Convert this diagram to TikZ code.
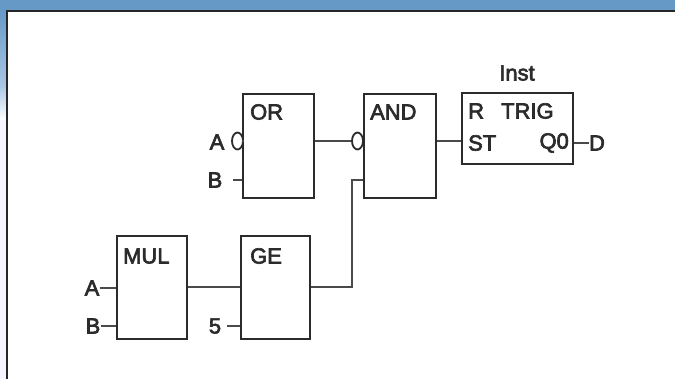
\documentclass[tikz,border=0pt]{standalone}
\usepackage{fontspec}
\setmainfont{Liberation Sans}
\newfontfamily\diag{Liberation Sans}[FakeBold=3]
\usetikzlibrary{shapes.geometric}
\definecolor{ink}{HTML}{2B2B2B}
\definecolor{wirec}{HTML}{4A4A4A}
\definecolor{band}{HTML}{6699C6}
\definecolor{bandlight}{HTML}{A8C6E4}
\begin{document}
\begin{tikzpicture}[x=1bp,y=-1bp,
  fb/.style={draw=ink,line width=2.4bp,rectangle,inner sep=0pt,anchor=north west},
  txt/.style={text=ink,inner sep=0pt,font=\diag\fontsize{22}{24}\selectfont},
  wire/.style={draw=wirec,line width=1.8bp},
  inv/.style={draw=ink,line width=1.8bp,ellipse,inner sep=0pt,minimum width=11bp,minimum height=17bp}]
\useasboundingbox (0,0) rectangle (675,379);
% background frame
\fill[band] (0,0) rectangle (675,10);
\shade[top color=band,bottom color=bandlight] (0,10) rectangle (6,85);
\shade[top color=bandlight,bottom color=white] (0,85) rectangle (6,120);
\fill[white!96!blue] (0,120) rectangle (6,379);
\fill[white] (6,10) rectangle (675,379);
\draw[line width=2bp,black!85] (7,379) -- (7,11) -- (675,11);
% boxes
\node[fb,minimum width=71bp,minimum height=104bp] (or) at (242,93) {};
\node[fb,minimum width=72bp,minimum height=104bp] (and) at (363,93) {};
\node[fb,minimum width=111bp,minimum height=71bp] (trig) at (461,92) {};
\node[fb,minimum width=70bp,minimum height=103bp] (mul) at (116,235) {};
\node[fb,minimum width=69bp,minimum height=103bp] (ge) at (240,235) {};
% box texts
\node[txt,anchor=west] (ort) at (250,112) {OR};
\node[txt,anchor=west] (andt) at (370,112) {AND};
\node[txt,anchor=west] (mult) at (123,256) {MUL};
\node[txt,anchor=west] (get) at (250,256) {GE};
\node[txt,anchor=west] (tr) at (468,111) {R};
\node[txt,anchor=west] (trt) at (501,111) {TRIG};
\node[txt,anchor=west] (st) at (468,143) {ST};
\node[txt,anchor=east] (q0) at (569,143) {Q0};
\node[txt] (inst) at (517,73) {Inst};
% input / output labels
\node[txt] (la) at (217,142) {A};
\node[txt] (lb) at (215,180) {B};
\node[txt] (ma) at (92,288) {A};
\node[txt] (mb) at (93,326) {B};
\node[txt] (five) at (215,326) {5};
\node[txt] (ld) at (597,143) {D};
% inverted inputs
\node[inv] (ia) at (237.5,141) {};
\node[inv] (ib) at (357.5,141) {};
% connectors
\coordinate (bend1) at (352,287);
\coordinate (bend2) at (352,180);
\draw[wire] (ia.east) -- (ia.east -| or.west);
\draw[wire] (233,180) -- (lb.east -| or.west);
\draw[wire] (or.east |- ib) -- (ib.west);
\draw[wire] (ge.east |- bend1) -- (bend1) -- (bend2) -- (bend2 -| and.west);
\draw[wire] (mul.east |- bend1) -- (bend1 -| ge.west);
\draw[wire] (and.east |- 0,141) -- (trig.west |- 0,141);
\draw[wire] (trig.east |- ld) -- (ld.west);
\draw[wire] (ma.east) -- (ma.east -| mul.west);
\draw[wire] (mb.east) -- (mb.east -| mul.west);
\draw[wire] (five.east) ++(6,0) -- (five.east -| ge.west);
\end{tikzpicture}
\end{document}
